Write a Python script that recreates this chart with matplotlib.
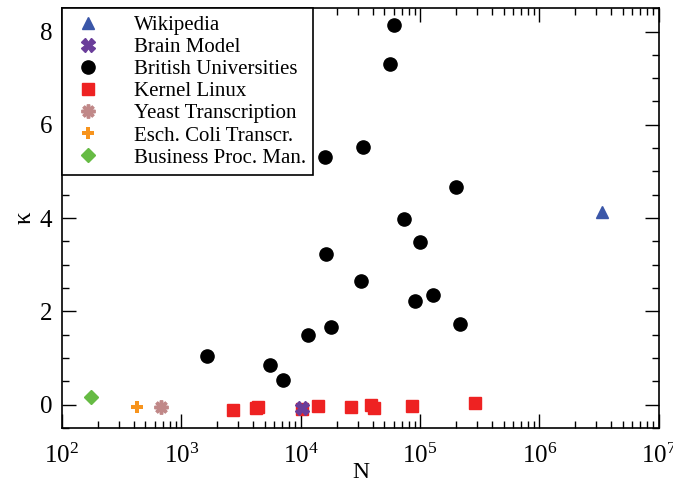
import matplotlib.pyplot as plt
from matplotlib.ticker import MultipleLocator, LogLocator, NullFormatter

plt.rcParams['font.family'] = ['Liberation Serif', 'DejaVu Serif']
plt.rcParams['mathtext.fontset'] = 'stix'

# network size N and kappa for each data set
wiki_n = [3.33e6]
wiki_k = [4.12]

brain_n = [10200]
brain_k = [-0.07]

brit_n = [1640, 5520, 7100, 11500, 17900, 16250, 16000, 33200, 31900,
          55800, 60300, 73100, 99500, 90400, 128000, 199500, 215000]
brit_k = [1.05, 0.84, 0.52, 1.50, 1.67, 3.24, 5.32, 5.52, 2.66,
          7.30, 8.13, 3.97, 3.48, 2.23, 2.34, 4.66, 1.72]

kernel_n = [2700, 4200, 4400, 10240, 13900, 26300, 38700, 41000, 85300, 288000]
kernel_k = [-0.11, -0.08, -0.06, -0.10, -0.04, -0.05, 0.00, -0.08, -0.03, 0.03]

yeast_n = [675]
yeast_k = [-0.06]

ecoli_n = [425]
ecoli_k = [-0.06]

bpm_n = [175]
bpm_k = [0.17]

fig = plt.figure(figsize=(6.73, 4.83), dpi=100)
ax = fig.add_axes([0.092, 0.114, 0.887, 0.869])

ax.plot(wiki_n, wiki_k, ls='none', marker='^', ms=9, color='#3a56a8', label='Wikipedia')
ax.plot(brain_n, brain_k, ls='none', marker='X', ms=10, color='#6a3d9a', mec='#6a3d9a', label='Brain Model', zorder=4)
ax.plot(brit_n, brit_k, ls='none', marker='o', ms=9.5, color='black', label='British Universities')
ax.plot(kernel_n, kernel_k, ls='none', marker='s', ms=8, color='#ee2222', label='Kernel Linux', zorder=3)
ax.plot(yeast_n, yeast_k, ls='none', marker=(8, 2, 0), ms=10, mew=2.5, color='#c08888', label='Yeast Transcription')
ax.plot(ecoli_n, ecoli_k, ls='none', marker='P', ms=9, color='#f7941d', mew=0, label='Esch. Coli Transcr.')
ax.plot(bpm_n, bpm_k, ls='none', marker='D', ms=7, color='#66bb44', label='Business Proc. Man.')

ax.set_xscale('log')
ax.set_xlim(1e2, 1e7)
ax.set_ylim(-0.5, 8.5)
ax.yaxis.set_major_locator(MultipleLocator(2))
ax.yaxis.set_minor_locator(MultipleLocator(0.5))
ax.xaxis.set_major_locator(LogLocator(base=10, numticks=10))
ax.xaxis.set_minor_locator(LogLocator(base=10, subs=range(2, 10), numticks=100))
ax.xaxis.set_minor_formatter(NullFormatter())

ax.tick_params(which='both', direction='in', top=True, right=True, labelsize=18)
ax.tick_params(which='major', length=10, width=1)
ax.tick_params(axis='x', which='major', pad=11)
ax.tick_params(axis='y', which='major', pad=7)
ax.tick_params(which='minor', length=5, width=1)
for s in ax.spines.values():
    s.set_linewidth(1.2)

ax.set_xlabel('N', fontsize=17, labelpad=-4)
ax.set_ylabel('κ', fontsize=18, labelpad=3)

leg = ax.legend(loc='upper left', borderaxespad=0, fontsize=15, frameon=True,
                fancybox=False, edgecolor='black', framealpha=1,
                handletextpad=1.3, labelspacing=0.12, borderpad=0.35,
                handlelength=1.8, numpoints=1)
leg.get_frame().set_linewidth(1.2)
leg.set_zorder(10)

fig.savefig('out.png', dpi=100)
